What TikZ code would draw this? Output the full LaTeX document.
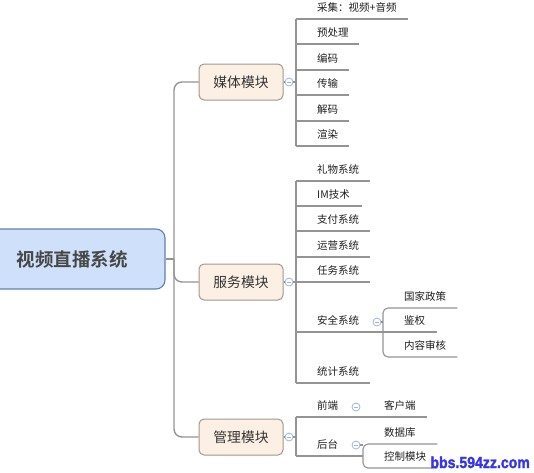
\documentclass[tikz,border=0pt]{standalone}
\usepackage{fontspec}
\setmainfont{Noto Sans CJK SC}[BoldFont={Noto Sans CJK SC Bold}]
\newfontfamily\markfont[BoldFeatures={FakeBold=2}]{Liberation Sans}
\usepackage{tikz}
\usetikzlibrary{positioning}
\definecolor{rootfill}{HTML}{CFE0FA}
\definecolor{rootline}{HTML}{6280B4}
\definecolor{modfill}{HTML}{FCF0E5}
\definecolor{modline}{HTML}{A0978D}
\definecolor{linegray}{HTML}{949494}
\definecolor{togblue}{HTML}{9DB5E3}
\definecolor{markblue}{HTML}{3535EC}

\begin{document}
\begin{tikzpicture}[x=1pt,y=-1pt,
  trunk/.style={draw=linegray, line width=1.4pt},
  line/.style={draw=linegray, line width=1.1pt},
  rootbox/.style={draw=rootline, fill=rootfill, line width=1.1pt, rounded corners=9pt,
    minimum width=186pt, minimum height=60pt, text=black!72,
    font=\bfseries\fontsize{18.5}{20}\selectfont},
  modbox/.style={draw=modline, fill=modfill, line width=1pt, rounded corners=5pt,
    minimum width=84pt, minimum height=36pt, text=black!80,
    font=\fontsize{13.8}{15}\selectfont},
  toggle/.style={circle, draw=togblue, fill=white, minimum size=8pt, inner sep=0pt, line width=0.8pt,
    path picture={\draw[togblue, line width=0.8pt]
      ([xshift=-2pt]path picture bounding box.center) -- ([xshift=2pt]path picture bounding box.center);}},
  leaf/.style={anchor=south west, minimum height=22pt, inner xsep=0pt, inner ysep=0pt,
    align=left, text=black!88, font=\fontsize{10.5}{12}\selectfont}]
\useasboundingbox (0,0) rectangle (534,472);

\node[rootbox] (root) at (72,259) {视频直播系统};
\node[modbox] (media) at (241,82) {媒体模块};
\node[modbox] (serv) at (241,282) {服务模块};
\node[modbox] (mgmt) at (241,437) {管理模块};

\coordinate (hub) at (174,259);
\coordinate (cbar) at (296,0);
\coordinate (sbar) at (383,0);
\coordinate (gbar) at (363,0);

\draw[trunk] (root) -- (hub);
\draw[trunk, rounded corners=8pt] (hub) |- (media);
\draw[trunk, rounded corners=8pt] (hub) |- (serv);
\draw[trunk, rounded corners=8pt] (hub) |- (mgmt);

% media
\node[leaf, text width=91pt] (m1) at (317,19) {采集：视频+音频};
\node[leaf, text width=42pt] (m2) at (317,44) {预处理};
\node[leaf, text width=32pt] (m3) at (317,70) {编码};
\node[leaf, text width=32pt] (m4) at (317,95) {传输};
\node[leaf, text width=32pt] (m5) at (317,121) {解码};
\node[leaf, text width=32pt] (m6) at (317,146) {渲染};
\foreach \n in {m1,m2,m3,m4,m5,m6}
  \draw[line] (\n.south -| cbar) -- (\n.south east);
\draw[line] (m1.south -| cbar) -- (m6.south -| cbar);
\node[toggle] (mtog) at (289,82) {};
\draw[line] (media) -- (mtog) -- (mtog -| cbar);

% service
\node[leaf, text width=53pt] (s1) at (317,181) {礼物系统};
\node[leaf, text width=45pt] (s2) at (317,206) {IM技术};
\node[leaf, text width=53pt] (s3) at (317,231) {支付系统};
\node[leaf, text width=53pt] (s4) at (317,257) {运营系统};
\node[leaf, text width=53pt] (s5) at (317,282) {任务系统};
\node[leaf, text width=66pt] (s6) at (317,332) {安全系统};
\node[leaf, text width=53pt] (s7) at (317,383) {统计系统};
\foreach \n in {s1,s2,s3,s4,s5,s6,s7}
  \draw[line] (\n.south -| cbar) -- (\n.south east);
\draw[line] (s1.south -| cbar) -- (s7.south -| cbar);
\node[toggle] (stog0) at (289,282) {};
\draw[line] (serv) -- (stog0) -- (stog0 -| cbar);

\node[leaf, text width=53pt] (k1) at (404,308) {国家政策};
\node[leaf, text width=33pt] (k2) at (404,332) {鉴权};
\node[leaf, text width=53pt] (k3) at (404,357) {内容审核};
\draw[line, rounded corners=5pt] (k1.south east) -- (k1.south -| sbar) -- (k3.south -| sbar) -- (k3.south east);
\draw[line] (k2.south -| sbar) -- (k2.south east);
\node[toggle] (ktog) at (377,322) {};
\draw[line] (ktog) -- (ktog -| sbar);

% management
\node[leaf, text width=46pt] (g1) at (317,417) {前端};
\node[leaf, text width=46pt] (g2) at (317,456) {后台};
\draw[line] (g1.south -| cbar) -- (g1.south east);
\draw[line] (g2.south -| cbar) -- (g2.south east);
\draw[line] (g1.south -| cbar) -- (g2.south -| cbar);
\node[toggle] (gtog0) at (289,437) {};
\draw[line] (mgmt) -- (gtog0) -- (gtog0 -| cbar);

\node[leaf, text width=43pt] (h1) at (384,417) {客户端};
\node[leaf, text width=53pt] (h2) at (384,444) {数据库};
\node[leaf, text width=53pt] (h3) at (384,468) {控制模块};
\draw[line] (g1.south east) -- (h1.south east);
\node[toggle] (g1tog) at (356,407) {};
\draw[line, rounded corners=5pt] (h2.south east) -- (h2.south -| gbar) -- (h3.south -| gbar) -- (h3.south east);
\node[toggle] (g2tog) at (356,445) {};
\draw[line] (g2tog) -- (g2tog -| gbar);

\node[anchor=base east, inner sep=0pt, xscale=0.88, text=markblue,
  font=\markfont\bfseries\fontsize{16}{16}\selectfont] (mark) at (530,468) {bbs.594zz.com};
\end{tikzpicture}
\end{document}
